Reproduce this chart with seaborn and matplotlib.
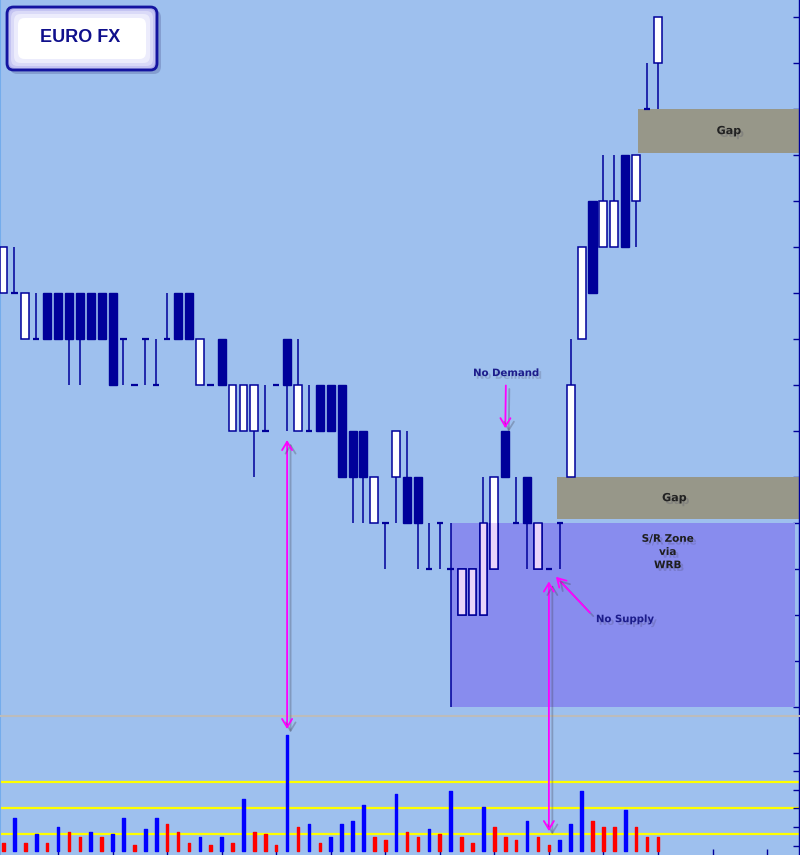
import numpy as np
import pandas as pd
import matplotlib
matplotlib.use("Agg")
import matplotlib.pyplot as plt
import matplotlib.patheffects as pe
from matplotlib.patches import Rectangle, FancyBboxPatch, ConnectionPatch
import seaborn as sns

# OHLC in price steps (1 step = one gridline of the right-hand scale)
opens = [9, 9, 8, 8, 9, 9, 9, 9, 9, 9, 9, 8, 7, 8, 7, 8, 9, 9, 7, 7,
         8, 6, 6, 6, 6, 7, 8, 6, 6, 7, 7, 7, 6, 6, 4, 4, 5, 5, 5, 3,
         4, 3, 2, 2, 2, 3, 6, 4, 5, 3, 3, 4, 5, 8, 11, 10, 10, 12, 11, 13, 14]
highs = [10, 10, 9, 9, 9, 9, 9, 9, 9, 9, 9, 8, 7, 8, 8, 9, 9, 9, 8, 7,
         8, 7, 7, 7, 7, 7, 8, 8, 7, 7, 7, 7, 6, 6, 5, 4, 6, 6, 5, 4,
         4, 4, 3, 3, 5, 5, 6, 5, 5, 4, 3, 4, 8, 10, 11, 12, 12, 12, 12, 14, 15]
lows = [9, 9, 8, 8, 8, 8, 7, 7, 8, 8, 7, 7, 7, 7, 7, 8, 8, 8, 7, 7,
        7, 6, 6, 5, 6, 7, 6, 6, 6, 6, 6, 5, 4, 4, 4, 3, 4, 4, 3, 3,
        3, 0, 2, 2, 2, 3, 5, 4, 3, 3, 3, 3, 5, 8, 9, 10, 10, 10, 10, 13, 13]
closes = [10, 9, 9, 8, 8, 8, 8, 8, 8, 8, 7, 8, 7, 8, 7, 8, 8, 8, 8, 7,
          7, 7, 7, 7, 6, 7, 7, 7, 6, 6, 6, 5, 5, 5, 5, 4, 6, 4, 4, 3,
          4, 3, 3, 3, 4, 5, 5, 4, 4, 4, 3, 4, 7, 10, 9, 11, 11, 10, 12, 13, 15]

# volume (thousands) and bar colour class
volume = [8, 33, 8, 17, 8, 24, 19, 14, 19, 14, 17, 33, 6, 22, 33, 27, 19, 8, 14, 6,
          14, 8, 52, 19, 17, 6, 116, 24, 27, 8, 14, 27, 30, 46, 14, 11, 57, 19, 14, 22,
          17, 60, 14, 8, 44, 24, 14, 11, 30, 14, 6, 11, 27, 60, 30, 24, 24, 41, 24, 14, 14]
vol_side = list("RBRBRBRRBR" "BBRBBRRRBR" "BRBRRRBRBR" "BBBBRRBRRB"
                "RBRRBRRRBR" "RBBBRRRBRR" "R")
vol_levels = [16.7, 43.3, 69.3]
vol_ticks = [5, 24, 43, 61, 80, 98]

# annotations
wrb_bar = 41
gap_start = [50.7, 58.2]
gap_lo = [4.09, 12.04]
gap_hi = [5.0, 13.0]
gap_label_pos = [(61.5, 4.54), (66.5, 12.52)]

BG = "#9ec0ee"
NAVY = "#00009a"
ZONE = "#888cee"
GAP = "#979789"
LAV = "#e8d4fa"
MAG = "#ff00ff"

df = pd.DataFrame({"bar": np.arange(len(opens)), "open": opens, "high": highs,
                   "low": lows, "close": closes})
vol_df = pd.DataFrame({"bar": df["bar"], "volume": volume,
                       "side": ["up" if s == "B" else "down" for s in vol_side]})
up = df[df.close > df.open]
dn = df[df.close < df.open]
dj = df[df.close == df.open]

sns.set_theme(style="white")
plt.rcParams["font.family"] = ["DejaVu Sans"]

fig = plt.figure(figsize=(8, 8.55), dpi=100)
fig.patch.set_facecolor(BG)
ax = fig.add_axes([0, 139 / 855, 799 / 800, 716 / 855])
axv = fig.add_axes([0, 0, 799 / 800, 139 / 855])
xlim = (-0.32, 72.93)
for a in (ax, axv):
    a.set_facecolor(BG)
    a.set_xlim(*xlim)
    for s in a.spines.values():
        s.set_visible(False)
    a.spines["left"].set_visible(True)
    a.spines["left"].set_color("#74acec")
    a.spines["left"].set_linewidth(1.5)
    a.spines["right"].set_visible(True)
    a.spines["right"].set_color(NAVY)
    a.spines["right"].set_linewidth(1.0)

# ---- price panel
ax.set_ylim(-0.196, 15.37)
zone = Rectangle((wrb_bar, lows[wrb_bar]), 72.56 - wrb_bar, highs[wrb_bar] - lows[wrb_bar],
                 facecolor=ZONE, edgecolor="none", zorder=1)
ax.add_patch(zone)
for gs, lo, hi in zip(gap_start, gap_lo, gap_hi):
    ax.add_patch(Rectangle((gs, lo), xlim[1] - gs, hi - lo, facecolor=GAP,
                           edgecolor="none", zorder=1))

ax.vlines(df.bar, df.low, df.high, color=NAVY, lw=1.1, zorder=2)
ax.bar(up.bar, up.close - up.open, bottom=up.open, width=0.72, color="white",
       edgecolor=NAVY, linewidth=1.1, zorder=3)
ax.bar(dn.bar, dn.open - dn.close, bottom=dn.close, width=0.74, color=NAVY,
       edgecolor=NAVY, linewidth=1.0, zorder=3)
ax.hlines(dj.close, dj.bar - 0.3, dj.bar + 0.3, color=NAVY, lw=1.6, zorder=3)
# white bodies seen through the S/R zone
tinted = ax.bar(up.bar, up.close - up.open, bottom=up.open, width=0.72, color=LAV,
                edgecolor=NAVY, linewidth=1.1, zorder=3.5)
for p in tinted.patches:
    p.set_clip_path(zone)

ax.yaxis.tick_right()
ax.set_yticks(range(16))
ax.tick_params(axis="y", which="both", direction="in", length=4, width=1, color=NAVY,
               right=True, left=False, labelright=False, labelleft=False)
ax.tick_params(axis="x", bottom=False, labelbottom=False)

shadow = [pe.withSimplePatchShadow(offset=(2, -2), shadow_rgbFace="#404058", alpha=0.22)]
for (gx, gy) in gap_label_pos:
    ax.text(gx, gy, "Gap", ha="center", va="center", fontsize=8, fontweight="bold",
            color="#222222", zorder=6, path_effects=shadow)
ax.text(60.9, 3.37, "S/R Zone\nvia\nWRB", ha="center", va="center", fontsize=7.5,
        fontweight="bold", color="#1e1e1e", linespacing=1.4, zorder=6, path_effects=shadow)

line_shadow = [pe.SimpleLineShadow(offset=(2.5, -2.5), shadow_color="#404050", alpha=0.3),
               pe.Normal()]
head = "->, head_length=0.5, head_width=0.3"
ax.annotate("No Demand", xy=(46, highs[46]), xytext=(46.07, 7.26), ha="center", va="center",
            fontsize=7.3, fontweight="bold", color="#1c1c8c", zorder=6, path_effects=shadow,
            arrowprops=dict(arrowstyle=head, color=MAG, lw=1.3, shrinkA=3, shrinkB=2,
                            mutation_scale=12, path_effects=line_shadow))
ax.annotate("No Supply", xy=(50.65, 2.83), xytext=(56.98, 1.91), ha="center", va="center",
            fontsize=7.3, fontweight="bold", color="#1c1c8c", zorder=6, path_effects=shadow,
            arrowprops=dict(arrowstyle=head, color=MAG, lw=1.3, shrinkA=3, shrinkB=0,
                            relpos=(0, 0.5), mutation_scale=12, path_effects=line_shadow))

# ---- volume panel
axv.set_ylim(-4, 135)
for lv in vol_levels:
    axv.axhline(lv, color="#ffff00", lw=1.6, zorder=0.5)
sns.barplot(data=vol_df, x="bar", y="volume", hue="side", native_scale=True,
            palette={"up": "#0000ff", "down": "#ff0000"}, width=0.24, saturation=1,
            errorbar=None, legend=False, ax=axv)
for p in axv.patches:
    p.set_edgecolor(p.get_facecolor())
    p.set_linewidth(1.0)
    p.set_joinstyle("round")
axv.set_xlim(*xlim)
axv.set_xlabel("")
axv.set_ylabel("")
axv.spines["top"].set_visible(True)
axv.spines["top"].set_color("#bcbcbc")
axv.spines["top"].set_linewidth(1.5)
axv.set_xticks(range(5, 75, 5))
axv.yaxis.tick_right()
axv.set_yticks(vol_ticks)
axv.tick_params(axis="both", direction="in", length=4, width=1, color=NAVY,
                labelbottom=False, labelright=False, labelleft=False,
                bottom=True, right=True, left=False, top=False)

# arrows linking price and volume
for b, sa, sb in [(26, 6.5, 4.3), (50, 9.0, 10.0)]:
    con = ConnectionPatch(xyA=(b, lows[b]), coordsA=ax.transData,
                          xyB=(b, volume[b]), coordsB=axv.transData,
                          arrowstyle="<->, head_length=0.5, head_width=0.3",
                          color=MAG, lw=1.3, shrinkA=sa, shrinkB=sb, mutation_scale=12,
                          zorder=7, path_effects=line_shadow)
    fig.add_artist(con)

# ---- title box
def fbox(x0, y0, x1, y1):
    return (x0 / 800, 1 - y1 / 855), (x1 - x0) / 800, (y1 - y0) / 855

xy, w, h = fbox(10, 10, 161, 74)
fig.add_artist(FancyBboxPatch(xy, w, h, boxstyle="round,pad=0,rounding_size=0.009",
                              transform=fig.transFigure, facecolor="#55609a",
                              edgecolor="none", alpha=0.35))
layers = [("#a8a8e8", 0), ("#c4c4f2", 2), ("#dadaf8", 4), ("#ececfc", 7), ("#ffffff", 11)]
for col, ins in layers:
    xy, w, h = fbox(7 + ins, 7 + ins, 157 - ins, 70 - ins)
    fig.add_artist(FancyBboxPatch(xy, w, h, boxstyle="round,pad=0,rounding_size=0.008",
                                  transform=fig.transFigure, facecolor=col,
                                  edgecolor="#1414a0" if ins == 0 else "none",
                                  linewidth=2.0 if ins == 0 else 0))
fig.text(80 / 800, 1 - 38 / 855, "EURO FX", ha="center", va="center", fontsize=13,
         fontweight="bold", color="#10108c", family=["Liberation Sans", "DejaVu Sans"])

fig.savefig("out.png", dpi=100, facecolor=fig.get_facecolor())
